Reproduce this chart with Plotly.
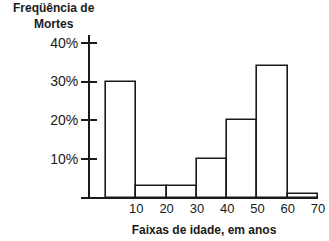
import plotly.graph_objects as go

# Data
age_bins = [5, 15, 25, 35, 45, 55, 65]          # bin centers (10-year classes)
bin_width = [10, 10, 10, 10, 10, 10, 10]
freq_pct = [30, 3, 3, 10, 20, 34, 1]            # % of deaths
x_ticks = [10, 20, 30, 40, 50, 60, 70]
y_ticks = [0, 10, 20, 30, 40]
y_tick_labels = ["", "10%", "20%", "30%", "40%"]

FONT = "Liberation Sans, Arial, sans-serif"
INK = "#1a1a1a"

fig = go.Figure()
fig.add_trace(go.Bar(
    x=age_bins, y=freq_pct, width=bin_width,
    marker=dict(color="white", line=dict(color=INK, width=1.6)),
    showlegend=False, hoverinfo="skip",
))
# invisible trace to activate the second y axis (inner half of crossing ticks)
fig.add_trace(go.Scatter(x=[None], y=[None], yaxis="y2", showlegend=False))

fig.update_layout(
    width=329, height=241,
    margin=dict(l=90, r=11, t=35, b=42, autoexpand=False),
    paper_bgcolor="white", plot_bgcolor="white",
    bargap=0,
    xaxis=dict(
        range=[-5.3, 70], showgrid=False, zeroline=False,
        showline=False, automargin=False,
        tickvals=x_ticks, ticks="",
        tickfont=dict(family=FONT, size=13, color=INK),
        title=dict(text="<b>Faixas de idade, em anos</b>",
                   font=dict(family=FONT, size=12, color=INK), standoff=10),
    ),
    yaxis=dict(
        range=[-0.3, 42], showgrid=False, automargin=False,
        zeroline=True, zerolinecolor=INK, zerolinewidth=2,
        showline=True, linecolor=INK, linewidth=2,
        tickvals=y_ticks, ticktext=y_tick_labels,
        ticks="outside", ticklen=7, tickwidth=2, tickcolor=INK,
        tickfont=dict(family=FONT, size=14, color=INK),
    ),
    yaxis2=dict(
        range=[-0.3, 42], overlaying="y", side="left", showgrid=False,
        zeroline=False, showline=False, automargin=False,
        tickvals=y_ticks, showticklabels=False,
        ticks="inside", ticklen=7, tickwidth=2, tickcolor=INK,
    ),
    annotations=[dict(
        text="<b>Freqüência de<br>Mortes</b>",
        xref="paper", yref="paper", x=-0.158, y=1.0,
        xanchor="center", yanchor="bottom", yshift=2,
        showarrow=False, align="center",
        font=dict(family=FONT, size=12, color=INK),
    )],
)

fig.write_html("out.html")
